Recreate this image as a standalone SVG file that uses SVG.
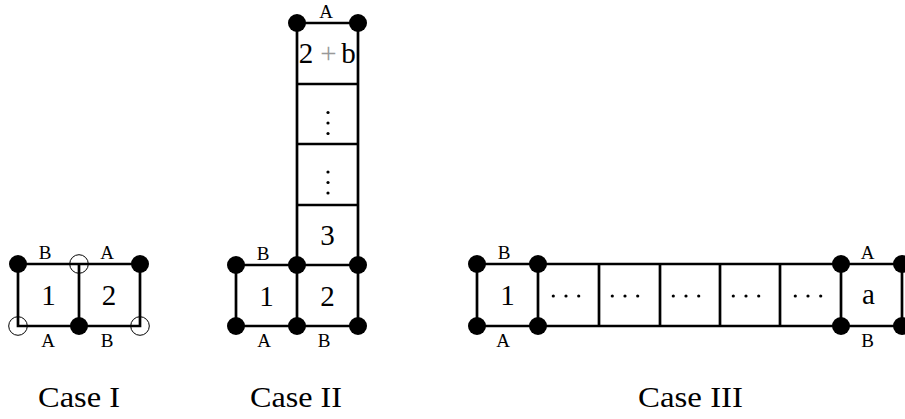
<svg xmlns="http://www.w3.org/2000/svg" width="905" height="419" viewBox="0 0 905 419">
  <defs>
    <circle id="vfull" r="9" fill="#000"/>
    <circle id="vopen" r="9.3" fill="none" stroke="#000" stroke-width="1"/>
    <circle id="pt" r="1.6" fill="#000"/>
  </defs>

  <!-- grid edges -->
  <g id="connectors" stroke="#000" stroke-width="2.7" fill="none" stroke-linecap="square">
    <!-- Case I -->
    <path d="M18 264 H140 M18 326 H140 M18 264 V326 M79 264 V326 M140 264 V326"/>
    <!-- Case II -->
    <path d="M236 265 H358 M236 326 H358 M236 265 V326 M297 23 V326 M358 23 V326 M297 23 H358 M297 84 H358 M297 144 H358 M297 205 H358"/>
    <!-- Case III -->
    <path d="M477 264 H902 M477 326 H902 M477 264 V326 M538 264 V326 M599 264 V326 M660 264 V326 M720 264 V326 M780 264 V326 M841 264 V326 M902 264 V326"/>
  </g>

  <!-- Case I -->
  <g id="case1" text-anchor="middle" font-family="Liberation Serif">
    <g id="c1-v1"><use href="#vfull" x="18" y="264"/></g>
    <g id="c1-v2"><use href="#vopen" x="79" y="264"/></g>
    <g id="c1-v3"><use href="#vfull" x="140" y="264"/></g>
    <g id="c1-v4"><use href="#vopen" x="18" y="326"/></g>
    <g id="c1-v5"><use href="#vfull" x="79" y="326"/></g>
    <g id="c1-v6"><use href="#vopen" x="140" y="326"/></g>
    <g id="c1-cell1"><text font-size="29" x="48.5" y="305">1</text></g>
    <g id="c1-cell2"><text font-size="29" x="109" y="305">2</text></g>
    <g font-size="19">
      <text x="45" y="259">B</text>
      <text x="107" y="259">A</text>
      <text x="48" y="347">A</text>
      <text x="107" y="347">B</text>
    </g>
    <text font-size="30" x="79" y="407" textLength="82" lengthAdjust="spacingAndGlyphs">Case I</text>
  </g>

  <!-- Case II -->
  <g id="case2" text-anchor="middle" font-family="Liberation Serif">
    <g id="c2-v1"><use href="#vfull" x="236" y="265"/></g>
    <g id="c2-v2"><use href="#vfull" x="297" y="265"/></g>
    <g id="c2-v3"><use href="#vfull" x="358" y="265"/></g>
    <g id="c2-v4"><use href="#vfull" x="236" y="326"/></g>
    <g id="c2-v5"><use href="#vfull" x="297" y="326"/></g>
    <g id="c2-v6"><use href="#vfull" x="358" y="326"/></g>
    <g id="c2-v7"><use href="#vfull" x="297" y="23"/></g>
    <g id="c2-v8"><use href="#vfull" x="358" y="23"/></g>
    <g id="c2-cell1"><text font-size="29" x="266.5" y="306">1</text></g>
    <g id="c2-cell2"><text font-size="29" x="327.5" y="306">2</text></g>
    <g id="c2-cell3"><text font-size="29" x="327.5" y="245">3</text></g>
    <g id="c2-cell4">
      <use href="#pt" x="328" y="172"/>
      <use href="#pt" x="328" y="182.5"/>
      <use href="#pt" x="328" y="193"/>
    </g>
    <g id="c2-cell5">
      <use href="#pt" x="328" y="112.5"/>
      <use href="#pt" x="328" y="123"/>
      <use href="#pt" x="328" y="133.5"/>
    </g>
    <g id="c2-cell6" font-size="29">
      <text x="306" y="63">2</text>
      <text fill="#999" x="328.5" y="63">+</text>
      <text x="348.5" y="63">b</text>
    </g>
    <g font-size="19">
      <text x="263" y="260">B</text>
      <text x="264" y="347">A</text>
      <text x="324" y="347">B</text>
      <text x="326" y="18">A</text>
    </g>
    <text font-size="30" x="296" y="407" textLength="92" lengthAdjust="spacingAndGlyphs">Case II</text>
  </g>

  <!-- Case III -->
  <g id="case3" text-anchor="middle" font-family="Liberation Serif">
    <g id="c3-v1"><use href="#vfull" x="477" y="264"/></g>
    <g id="c3-v2"><use href="#vfull" x="538" y="264"/></g>
    <g id="c3-v3"><use href="#vfull" x="477" y="326"/></g>
    <g id="c3-v4"><use href="#vfull" x="538" y="326"/></g>
    <g id="c3-v5"><use href="#vfull" x="841" y="264"/></g>
    <g id="c3-v6"><use href="#vfull" x="902" y="264"/></g>
    <g id="c3-v7"><use href="#vfull" x="841" y="326"/></g>
    <g id="c3-v8"><use href="#vfull" x="902" y="326"/></g>
    <g id="c3-cell1"><text font-size="29" x="507.5" y="305">1</text></g>
    <g id="c3-cell2">
      <use href="#pt" x="553.3" y="296"/>
      <use href="#pt" x="566" y="296"/>
      <use href="#pt" x="578.7" y="296"/>
    </g>
    <g id="c3-cell3">
      <use href="#pt" x="612.3" y="296"/>
      <use href="#pt" x="625" y="296"/>
      <use href="#pt" x="637.7" y="296"/>
    </g>
    <g id="c3-cell4">
      <use href="#pt" x="673.3" y="296"/>
      <use href="#pt" x="686" y="296"/>
      <use href="#pt" x="698.7" y="296"/>
    </g>
    <g id="c3-cell5">
      <use href="#pt" x="733.3" y="296"/>
      <use href="#pt" x="746" y="296"/>
      <use href="#pt" x="758.7" y="296"/>
    </g>
    <g id="c3-cell6">
      <use href="#pt" x="795.3" y="296"/>
      <use href="#pt" x="808" y="296"/>
      <use href="#pt" x="820.7" y="296"/>
    </g>
    <g id="c3-cell7"><text font-size="29" x="868.5" y="304">a</text></g>
    <g font-size="19">
      <text x="504" y="259">B</text>
      <text x="503" y="347">A</text>
      <text x="867.5" y="259">A</text>
      <text x="867.5" y="347">B</text>
    </g>
    <text font-size="30" x="690.5" y="407" textLength="105" lengthAdjust="spacingAndGlyphs">Case III</text>
  </g>
</svg>
